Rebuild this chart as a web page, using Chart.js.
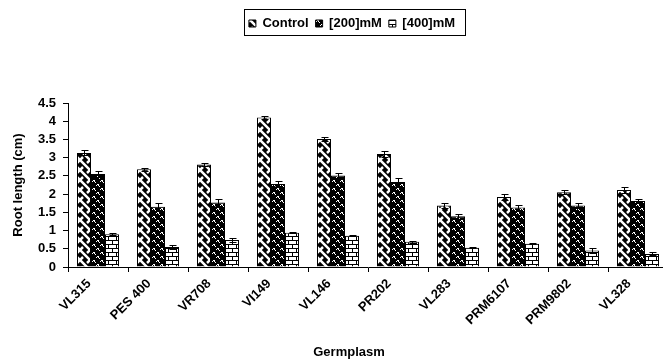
<!DOCTYPE html>
<html>
<head>
<meta charset="utf-8">
<script src="https://cdn.jsdelivr.net/npm/chart.js@4"></script>
<style>
    html, body { margin: 0; padding: 0; background: #fff; overflow: hidden; }
    #wrap { width: 663px; height: 360px; overflow: hidden; }
</style>
</head>
<body>
<div id="wrap"><canvas id="myChart" width="668" height="360"></canvas></div>
<script>
const germplasm = ['VL315', 'PES 400', 'VR708', 'VI149', 'VL146', 'PR202', 'VL283', 'PRM6107', 'PRM9802', 'VL328'];
const seriesNames = ['Control', '[200]mM', '[400]mM'];

const controlValues = [3.13, 2.68, 2.81, 4.10, 3.51, 3.10, 1.69, 1.92, 2.05, 2.11];
const mM200Values = [2.55, 1.65, 1.77, 2.28, 2.51, 2.33, 1.39, 1.63, 1.69, 1.81];
const mM400Values = [0.90, 0.55, 0.74, 0.94, 0.86, 0.69, 0.53, 0.64, 0.45, 0.36];

const controlErrors = [0.07, 0.05, 0.05, 0.05, 0.05, 0.08, 0.06, 0.09, 0.05, 0.09];
const mM200Errors = [0.08, 0.10, 0.10, 0.07, 0.07, 0.10, 0.07, 0.08, 0.06, 0.06];
const mM400Errors = [0.02, 0.06, 0.05, 0.02, 0.02, 0.02, 0.02, 0.02, 0.06, 0.04];

const yMax = 4.5;
const yStep = 0.5;

const FONT = "'Liberation Sans', Arial, sans-serif";

function makeTile(size, draw) {
    let c = document.createElement('canvas');
    c.width = size;
    c.height = size;
    let g = c.getContext('2d');
    draw(g);
    return c;
}

function weavePattern(ctx) {
    let tile = makeTile(10, g => {
        g.fillStyle = '#000';
        g.fillRect(0, 0, 10, 10);
        g.strokeStyle = '#fff';
        g.lineWidth = 2.5;
        g.beginPath();
        g.moveTo(-1, -1); g.lineTo(11, 11);
        g.moveTo(11, -1); g.lineTo(7, 3);
        g.moveTo(3, 7); g.lineTo(-1, 11);
        g.stroke();
    });
    return ctx.createPattern(tile, 'repeat');
}

function squigglePattern(ctx) {
    let tile = makeTile(8, g => {
        g.fillStyle = '#000';
        g.fillRect(0, 0, 8, 8);
        g.fillStyle = '#fff';
        // two little white squiggles per tile
        [[0, 1], [1, 0], [2, 0], [2, 1], [3, 2],
         [4, 5], [5, 4], [6, 4], [6, 5], [7, 6]].forEach(p => g.fillRect(p[0], p[1], 1, 1));
    });
    return ctx.createPattern(tile, 'repeat');
}

function brickPattern(ctx) {
    let tile = makeTile(8, g => {
        g.fillStyle = '#fff';
        g.fillRect(0, 0, 8, 8);
        g.fillStyle = '#000';
        g.fillRect(0, 0, 8, 1);
        g.fillRect(0, 4, 8, 1);
        g.fillRect(0, 0, 1, 4);
        g.fillRect(4, 4, 1, 4);
    });
    return ctx.createPattern(tile, 'repeat');
}

// error bars drawn on top of each bar, using the y scale
const errorBars = {
    id: 'errorBars',
    afterDatasetsDraw(chart) {
        let ctx = chart.ctx;
        let yScale = chart.scales.y;
        ctx.save();
        ctx.strokeStyle = '#000';
        ctx.lineWidth = 1;
        chart.data.datasets.forEach((ds, i) => {
            let meta = chart.getDatasetMeta(i);
            meta.data.forEach((bar, j) => {
                let v = ds.data[j];
                let e = ds.errors[j];
                let yTop = Math.round(yScale.getPixelForValue(v + e)) + 0.5;
                let yBot = Math.round(yScale.getPixelForValue(v - e)) + 0.5;
                let x = Math.round(bar.x) + 0.5;
                ctx.beginPath();
                ctx.moveTo(x, yTop); ctx.lineTo(x, yBot);
                ctx.moveTo(x - 3, yTop); ctx.lineTo(x + 4, yTop);
                ctx.moveTo(x - 3, yBot); ctx.lineTo(x + 4, yBot);
                ctx.stroke();
            });
        });
        ctx.restore();
    }
};

// legend: extra space below it, shifted a bit right, with a frame round it
// the bottom title (Germplasm) is shifted right a little too
const legendFrame = {
    id: 'legendFrame',
    beforeLayout(chart) {
        let legend = chart.legend;
        if (legend && !legend._patched) {
            let fit = legend.fit;
            legend.fit = function () {
                fit.call(this);
                this.height = 93;
            };
            legend._patched = true;
        }
    },
    afterLayout(chart) {
        chart.legend.left += 18;
        chart.legend.right += 18;
        if (chart.titleBlock) {
            chart.titleBlock.left += 15;
            chart.titleBlock.right += 15;
        }
    },
    afterDraw(chart) {
        let boxes = chart.legend.legendHitBoxes;
        if (!boxes || !boxes.length) return;
        let left = Math.min(...boxes.map(b => b.left)) - 5;
        let right = Math.max(...boxes.map(b => b.left + b.width)) + 10;
        let ctx = chart.ctx;
        ctx.save();
        ctx.strokeStyle = '#000';
        ctx.lineWidth = 1;
        ctx.strokeRect(Math.round(left) + 0.5, 9.5, Math.round(right - left), 26);
        ctx.restore();
    }
};

function drawChart() {
    let ctx = document.getElementById('myChart').getContext('2d');
    new Chart(ctx, {
        type: 'bar',
        data: {
            labels: germplasm,
            datasets: [
                {
                    label: seriesNames[0],
                    data: controlValues,
                    errors: controlErrors,
                    backgroundColor: weavePattern(ctx),
                    borderColor: '#000',
                    borderWidth: 1
                },
                {
                    label: seriesNames[1],
                    data: mM200Values,
                    errors: mM200Errors,
                    backgroundColor: squigglePattern(ctx),
                    borderColor: '#000',
                    borderWidth: 1
                },
                {
                    label: seriesNames[2],
                    data: mM400Values,
                    errors: mM400Errors,
                    backgroundColor: brickPattern(ctx),
                    borderColor: '#000',
                    borderWidth: 1
                }
            ]
        },
        options: {
            responsive: false,
            animation: false,
            devicePixelRatio: 1,
            layout: { padding: { top: 10, left: 0, right: 0, bottom: 0 } },
            datasets: {
                bar: { categoryPercentage: 0.7, barPercentage: 1.0 }
            },
            plugins: {
                tooltip: { enabled: false },
                title: {
                    display: true,
                    position: 'bottom',
                    text: 'Germplasm',
                    color: '#000',
                    padding: { top: 0, bottom: 0 },
                    font: { family: FONT, size: 13, weight: 'bold' }
                },
                legend: {
                    position: 'top',
                    align: 'center',
                    labels: {
                        boxWidth: 7,
                        boxHeight: 7,
                        padding: 7,
                        color: '#000',
                        font: { family: FONT, size: 13, weight: 'bold' }
                    }
                }
            },
            scales: {
                x: {
                    afterFit(scale) { scale.height = 77.4; },
                    border: { display: true, color: '#000', width: 1 },
                    grid: {
                        display: true,
                        offset: true,
                        drawOnChartArea: false,
                        drawTicks: true,
                        tickLength: 5,
                        color: '#000'
                    },
                    ticks: {
                        color: '#000',
                        minRotation: 45,
                        maxRotation: 45,
                        autoSkip: false,
                        padding: 4,
                        labelOffset: -9,
                        font: { family: FONT, size: 13, weight: 'bold' }
                    }
                },
                y: {
                    min: 0,
                    max: yMax,
                    afterFit(scale) { scale.width = 68; },
                    border: { display: true, color: '#000', width: 1 },
                    grid: {
                        display: true,
                        drawOnChartArea: false,
                        drawTicks: true,
                        tickLength: 5,
                        color: '#000'
                    },
                    ticks: {
                        stepSize: yStep,
                        autoSkip: false,
                        color: '#000',
                        padding: 7,
                        font: { family: FONT, size: 13, weight: 'bold' },
                        callback: value => String(Math.round(value * 10) / 10)
                    },
                    title: {
                        display: true,
                        text: 'Root length (cm)',
                        color: '#000',
                        padding: { top: 11, bottom: 0 },
                        font: { family: FONT, size: 13, weight: 'bold' }
                    }
                }
            }
        },
        plugins: [errorBars, legendFrame]
    });
}

drawChart();
</script>
</body>
</html>
